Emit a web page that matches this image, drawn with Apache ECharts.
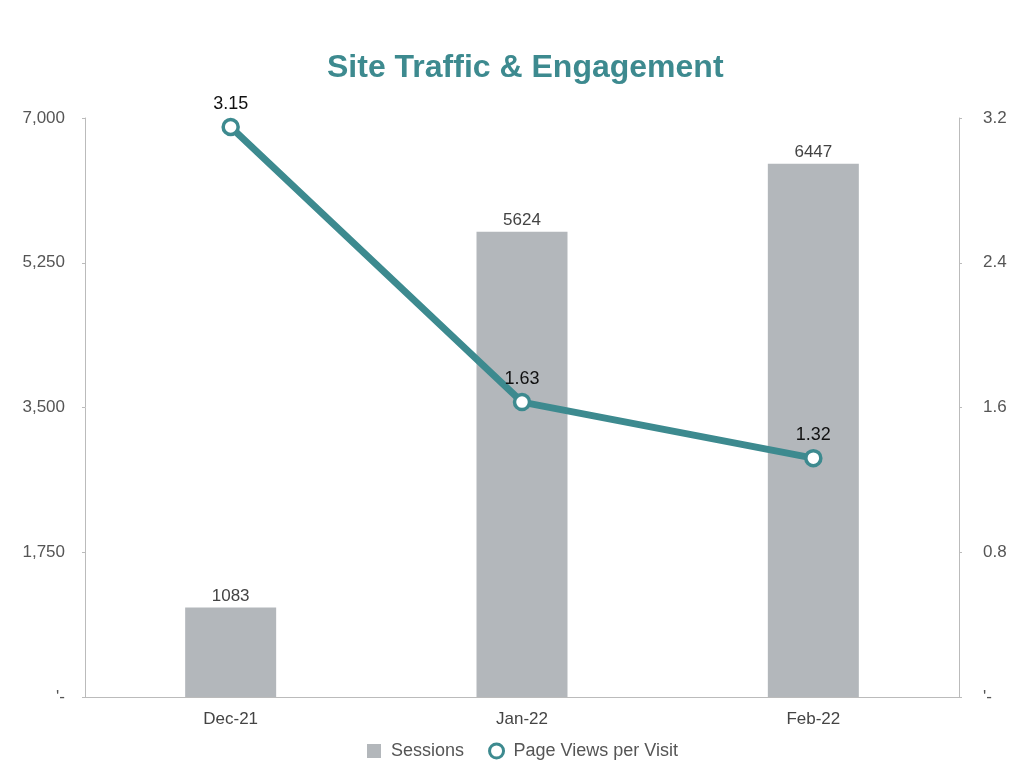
<!DOCTYPE html>
<html><head><meta charset="utf-8">
<script src="https://cdn.jsdelivr.net/npm/echarts@6/dist/echarts.min.js"></script>
<style>html,body{margin:0;padding:0;background:#fff}#c{width:1024px;height:768px}</style>
</head><body><div id="c"></div>
<script>
const categories = ['Dec-21', 'Jan-22', 'Feb-22'];
const sessions = [1083, 5624, 6447];
const pageViewsPerVisit = [3.15, 1.63, 1.32];
const leftTicks = { min: 0, max: 7000, interval: 1750 };
const rightTicks = { min: 0, max: 3.2, interval: 0.8 };

const font = 'Liberation Sans, Helvetica, Arial, sans-serif';
const chart = echarts.init(document.getElementById('c'));
chart.setOption({
  animation: false,
  textStyle: { fontFamily: font },
  title: {
    text: 'Site Traffic & Engagement', left: 322, top: 47,
    textStyle: { color: '#3d8a8f', fontSize: 32, fontWeight: 'bold', fontFamily: font }
  },
  grid: { left: 85, right: 65, top: 118, bottom: 71 },
  legend: {
    bottom: 3, left: 362, itemGap: 24, itemWidth: 14, itemHeight: 14,
    textStyle: { color: '#555', fontSize: 18, fontFamily: font, padding: [0, 0, 0, 5] },
    data: [
      { name: 'Sessions', icon: 'rect' },
      { name: 'Page Views per Visit', icon: 'circle', itemStyle: { color: '#fff', borderColor: '#3d8a8f', borderWidth: 3 } }
    ]
  },
  xAxis: {
    type: 'category', data: categories,
    axisLine: { lineStyle: { color: '#bbb' } },
    axisTick: { show: false },
    axisLabel: { color: '#444', fontSize: 17, margin: 14 }
  },
  yAxis: [
    {
      type: 'value', min: leftTicks.min, max: leftTicks.max, interval: leftTicks.interval,
      axisLine: { show: true, lineStyle: { color: '#bbb' } },
      axisTick: { show: true, length: 3, lineStyle: { color: '#bbb' } },
      splitLine: { show: false },
      axisLabel: { color: '#555', fontSize: 17, margin: 20,
        formatter: v => v === 0 ? "'-" : v.toLocaleString('en-US') }
    },
    {
      type: 'value', min: rightTicks.min, max: rightTicks.max, interval: rightTicks.interval,
      axisLine: { show: true, lineStyle: { color: '#bbb' } },
      axisTick: { show: true, length: 3, lineStyle: { color: '#bbb' } },
      splitLine: { show: false },
      axisLabel: { color: '#555', fontSize: 17, margin: 24,
        formatter: v => v === 0 ? "'-" : v.toFixed(1) }
    }
  ],
  series: [
    {
      name: 'Sessions', type: 'bar', data: sessions, barWidth: 91, yAxisIndex: 0,
      itemStyle: { color: '#b3b7bb' },
      label: { show: true, position: 'top', color: '#444', fontSize: 17, distance: 3 }
    },
    {
      name: 'Page Views per Visit', type: 'line', data: pageViewsPerVisit, yAxisIndex: 1,
      lineStyle: { color: '#3d8a8f', width: 7 },
      itemStyle: { color: '#fff', borderColor: '#3d8a8f', borderWidth: 3.5 },
      symbol: 'circle', symbolSize: 15,
      label: { show: true, position: 'top', color: '#111', fontSize: 18, distance: 5, formatter: p => p.value.toFixed(2) },
      z: 5
    }
  ]
});
</script></body></html>
